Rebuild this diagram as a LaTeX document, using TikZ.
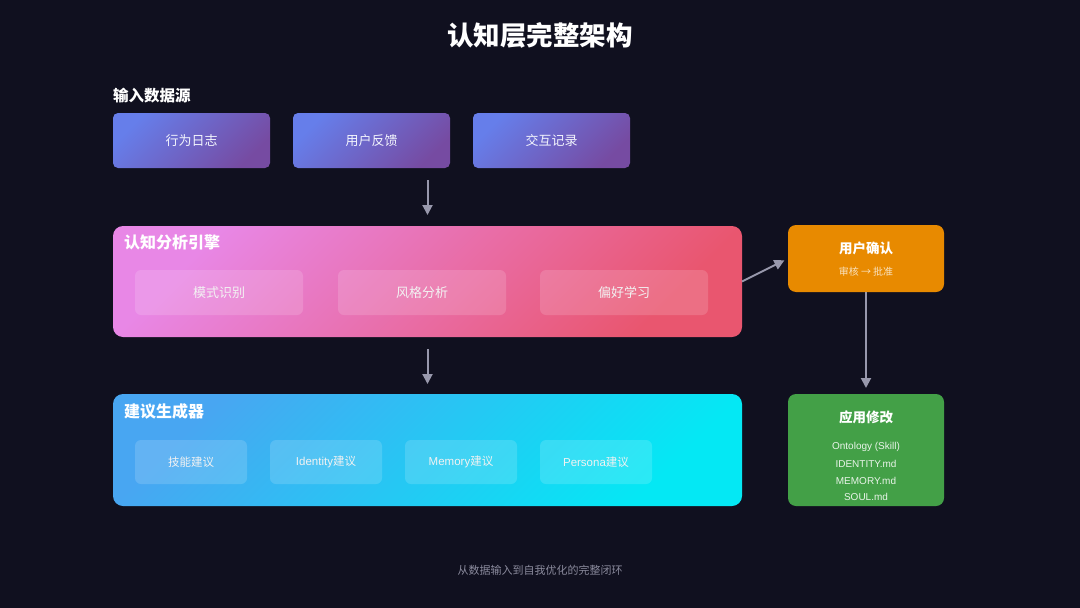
\documentclass[tikz,border=0pt]{standalone}
\usepackage{fontspec}
\setmainfont{Liberation Sans}
\newfontfamily\cjk{Noto Sans CJK SC}
\usetikzlibrary{arrows.meta}
\definecolor{bg}{HTML}{10101F}
\definecolor{inA}{HTML}{667EEA}
\definecolor{inB}{HTML}{764BA2}
\definecolor{pkA}{HTML}{E887E6}
\definecolor{pkB}{HTML}{E9566F}
\definecolor{blA}{HTML}{48A6F2}
\definecolor{blB}{HTML}{04E8F4}
\definecolor{orng}{HTML}{E88A00}
\definecolor{grn}{HTML}{43A047}
\definecolor{arr}{HTML}{9898AC}
\definecolor{foot}{HTML}{8A8A9C}
\tikzset{
  box/.style={draw=none, inner sep=0pt, outer sep=0pt},
  inbox/.style={box, rounded corners=5pt, minimum width=157pt, minimum height=55pt,
    top color=inA, bottom color=inB, shading angle=45,
    text=white!92!inA, font=\cjk\fontsize{13}{15}\selectfont},
  bigbox/.style={box, rounded corners=10pt, minimum width=629pt},
  innerbox/.style={box, rounded corners=6pt, fill=white, fill opacity=0.15, text opacity=1,
    text=white!95!black},
  sidebox/.style={box, rounded corners=8pt, minimum width=156pt},
  title/.style={anchor=west, inner sep=0pt, text=white, font=\cjk\bfseries\fontsize{16}{18}\selectfont},
  lbl/.style={inner sep=0pt},
  flow/.style={draw=arr, line width=2pt, -{Triangle[length=10pt,width=10pt]}},
}
\begin{document}
\begin{tikzpicture}[x=1pt,y=-1pt]
\fill[bg] (0,0) rectangle (1080,608);
\useasboundingbox (0,0) rectangle (1080,608);

\node[lbl, text=white, font=\cjk\bfseries\fontsize{26.5}{30}\selectfont] (ttl) at (540,35) {认知层完整架构};

\node[title, font=\cjk\bfseries\fontsize{15.5}{18}\selectfont] (inlbl) at (113,96) {输入数据源};
\node[inbox] (in1) at (191.5,140.5) {行为日志};
\node[inbox] (in2) at (371.5,140.5) {用户反馈};
\node[inbox] (in3) at (551.5,140.5) {交互记录};
\coordinate (inbot) at (427.5,168);

% cognitive analysis engine
\node[bigbox, minimum height=111pt, top color=pkA, bottom color=pkB, shading angle=45] (eng) at (427.5,281.5) {};
\node[title] (engt) at (124,242) {认知分析引擎};
\begin{scope}[every node/.style={innerbox, minimum width=168pt, minimum height=45pt, font=\cjk\fontsize{13}{15}\selectfont}]
\node (e1) at (219,292.5) {模式识别};
\node (e2) at (422,292.5) {风格分析};
\node (e3) at (624,292.5) {偏好学习};
\end{scope}

% suggestion generator
\node[bigbox, minimum height=112pt, top color=blA, bottom color=blB, shading angle=45] (gen) at (427.5,450) {};
\node[title] (gent) at (124,411) {建议生成器};
\begin{scope}[every node/.style={innerbox, minimum width=112pt, minimum height=44pt, font=\fontsize{11.5}{14}\selectfont}]
\node (g1) at (191,462) {\cjk 技能建议};
\node (g2) at (326,462) {Identity{\cjk 建议}};
\node (g3) at (461,462) {Memory{\cjk 建议}};
\node (g4) at (596,462) {Persona{\cjk 建议}};
\end{scope}

% user confirmation
\node[sidebox, minimum height=67pt, fill=orng] (conf) at (866,258.5) {};
\node[lbl, text=white, font=\cjk\bfseries\fontsize{13.5}{16}\selectfont] (conft) at (866,248) {用户确认};
\node[lbl, text=white!75!orng, font=\cjk\fontsize{10}{12}\selectfont] (confs) at (866,272) {审核 → 批准};

% apply changes
\node[sidebox, minimum height=112pt, fill=grn] (app) at (866,450) {};
\node[lbl, text=white, font=\cjk\bfseries\fontsize{13.5}{16}\selectfont] (appt) at (866,417) {应用修改};
\begin{scope}[every node/.style={lbl, text=white!88!grn, font=\fontsize{10}{12}\selectfont}]
\node (a1) at (866,447) {Ontology (Skill)};
\node (a2) at (866,464) {IDENTITY.md};
\node (a3) at (866,480.5) {MEMORY.md};
\node (a4) at (866,497) {SOUL.md};
\end{scope}

% connectors
\draw[flow, shorten <=12pt, shorten >=11pt] (inbot) -- (eng.north);
\draw[flow, shorten <=12pt, shorten >=10pt] (eng.south) -- (gen.north);
\draw[flow, shorten >=4pt] (eng.east) -- (conf.west);
\draw[flow, shorten >=6pt] (conf.south) -- (app.north);

\node[lbl, text=foot, font=\cjk\fontsize{11}{13}\selectfont] (ft) at (540,570) {从数据输入到自我优化的完整闭环};
\end{tikzpicture}
\end{document}
